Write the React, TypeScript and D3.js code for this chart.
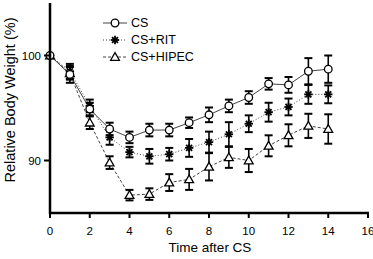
import React from "react";
import * as d3 from "d3";

const days = [0, 1, 2, 3, 4, 5, 6, 7, 8, 9, 10, 11, 12, 13, 14];
const cs = [100, 98.2, 94.9, 93.0, 92.2, 92.9, 92.9, 93.6, 94.35, 95.2, 96.0, 97.3, 97.2, 98.5, 98.7];
const csErr = [0, 0.8, 0.6, 0.6, 0.55, 0.6, 0.6, 0.5, 0.7, 0.6, 0.6, 0.55, 0.75, 1.25, 1.3];
const rit = [100, 98.5, 95.2, 92.2, 90.8, 90.4, 90.6, 91.2, 91.75, 92.5, 93.5, 94.6, 95.1, 96.3, 96.3];
const ritErr = [0, 0.7, 0.6, 0.7, 0.5, 0.7, 0.6, 0.85, 1.0, 1.15, 0.8, 0.9, 0.8, 0.9, 0.85];
const hipec = [100, 98.3, 93.6, 89.8, 86.7, 86.8, 87.9, 88.2, 89.4, 90.3, 90.0, 91.4, 92.4, 93.3, 93.0];
const hipecErr = [0, 0.6, 0.6, 0.6, 0.5, 0.55, 0.8, 1.0, 1.3, 1.0, 1.1, 1.0, 1.05, 1.15, 1.4];
const xTicks = [0, 2, 4, 6, 8, 10, 12, 14, 16];
const yTicks = [90, 100];
const seriesNames = ["CS", "CS+RIT", "CS+HIPEC"];

const W = 373;
const H = 259;
const FONT = "Arial, 'Liberation Sans', sans-serif";

const x = d3.scaleLinear().domain([0, 16]).range([50, 368]);
const y = d3.scaleLinear().domain([85, 105]).range([213, 3]);

type Kind = "circle" | "star" | "triangle";

function Marker({ kind, cx, cy }: { kind: Kind; cx: number; cy: number }) {
  if (kind === "circle") {
    return <circle cx={cx} cy={cy} r={3.8} fill="#fff" stroke="#000" strokeWidth={1.3} />;
  }
  if (kind === "triangle") {
    const s = 4.4;
    const pts = [
      [cx, cy - s],
      [cx - s, cy + s * 0.75],
      [cx + s, cy + s * 0.75],
    ]
      .map((p) => p.join(","))
      .join(" ");
    return <polygon points={pts} fill="#fff" stroke="#000" strokeWidth={1.3} />;
  }
  const r = 4.2;
  const lines = [0, 45, 90, 135].map((a) => {
    const rad = (a * Math.PI) / 180;
    return (
      <line
        key={a}
        x1={cx - r * Math.cos(rad)}
        y1={cy - r * Math.sin(rad)}
        x2={cx + r * Math.cos(rad)}
        y2={cy + r * Math.sin(rad)}
        stroke="#000"
        strokeWidth={1.8}
      />
    );
  });
  return (
    <g>
      {lines}
      <circle cx={cx} cy={cy} r={2} fill="#000" />
    </g>
  );
}

const series: { name: string; vals: number[]; errs: number[]; kind: Kind; dash: string }[] = [
  { name: seriesNames[2], vals: hipec, errs: hipecErr, kind: "triangle", dash: "3,2" },
  { name: seriesNames[1], vals: rit, errs: ritErr, kind: "star", dash: "1,2" },
  { name: seriesNames[0], vals: cs, errs: csErr, kind: "circle", dash: "" },
];

export default function App() {
  const line = d3
    .line<number>()
    .x((_, i) => x(days[i]))
    .y((d) => y(d));

  return (
    <svg
      width={W}
      height={H}
      style={{ position: "absolute", left: 0, top: 0, background: "#fff" }}
      fontFamily={FONT}
    >
      <rect width={W} height={H} fill="#fff" />
      {series.map((s) => (
        <path
          key={"l" + s.name}
          d={line(s.vals) || ""}
          fill="none"
          stroke="#444"
          strokeWidth={1}
          strokeDasharray={s.dash || undefined}
        />
      ))}
      {series.map((s) =>
        s.vals.map((v, i) =>
          s.errs[i] > 0 ? (
            <g key={"e" + s.name + i} stroke="#000" strokeWidth={1.6}>
              <line x1={x(days[i])} x2={x(days[i])} y1={y(v + s.errs[i])} y2={y(v - s.errs[i])} />
              <line x1={x(days[i]) - 4} x2={x(days[i]) + 4} y1={y(v + s.errs[i])} y2={y(v + s.errs[i])} strokeWidth={2} />
              <line x1={x(days[i]) - 4} x2={x(days[i]) + 4} y1={y(v - s.errs[i])} y2={y(v - s.errs[i])} strokeWidth={2} />
            </g>
          ) : null
        )
      )}
      {series.map((s) =>
        s.vals.map((v, i) => <Marker key={"m" + s.name + i} kind={s.kind} cx={x(days[i])} cy={y(v)} />)
      )}
      <line x1={x(0)} x2={x(0)} y1={y(105)} y2={y(85) + 1} stroke="#000" strokeWidth={2.5} />
      <line x1={x(0) - 1} x2={x(16) + 1} y1={y(85)} y2={y(85)} stroke="#000" strokeWidth={2.5} />
      {xTicks.map((t) => (
        <g key={"xt" + t}>
          <line x1={x(t)} x2={x(t)} y1={y(85)} y2={y(85) + 5} stroke="#000" strokeWidth={2} />
          <text x={x(t)} y={y(85) + 22} textAnchor="middle" fontSize={11.5} fill="#000">
            {t}
          </text>
        </g>
      ))}
      {yTicks.map((t) => (
        <g key={"yt" + t}>
          <line x1={x(0) - 6} x2={x(0)} y1={y(t)} y2={y(t)} stroke="#000" strokeWidth={2} />
          <text x={x(0) - 9} y={y(t)} dy="0.35em" textAnchor="end" fontSize={11.5} fill="#000">
            {t}
          </text>
        </g>
      ))}
      <text x={210} y={252} textAnchor="middle" fontSize={13.5} fill="#000">
        Time after CS
      </text>
      <text
        transform={`translate(15,${100}) rotate(-90)`}
        textAnchor="middle"
        fontSize={14.5}
        fill="#000"
      >
        Relative Body Weight (%)
      </text>
      {[series[2], series[1], series[0]].map((s, i) => {
        const ly = 23 + i * 17;
        return (
          <g key={"lg" + s.name}>
            <line
              x1={103}
              x2={127}
              y1={ly}
              y2={ly}
              stroke="#444"
              strokeWidth={1}
              strokeDasharray={s.dash || undefined}
            />
            <Marker kind={s.kind} cx={115} cy={ly} />
            <text x={131} y={ly} dy="0.35em" fontSize={12.5} fill="#000">
              {s.name}
            </text>
          </g>
        );
      })}
    </svg>
  );
}
